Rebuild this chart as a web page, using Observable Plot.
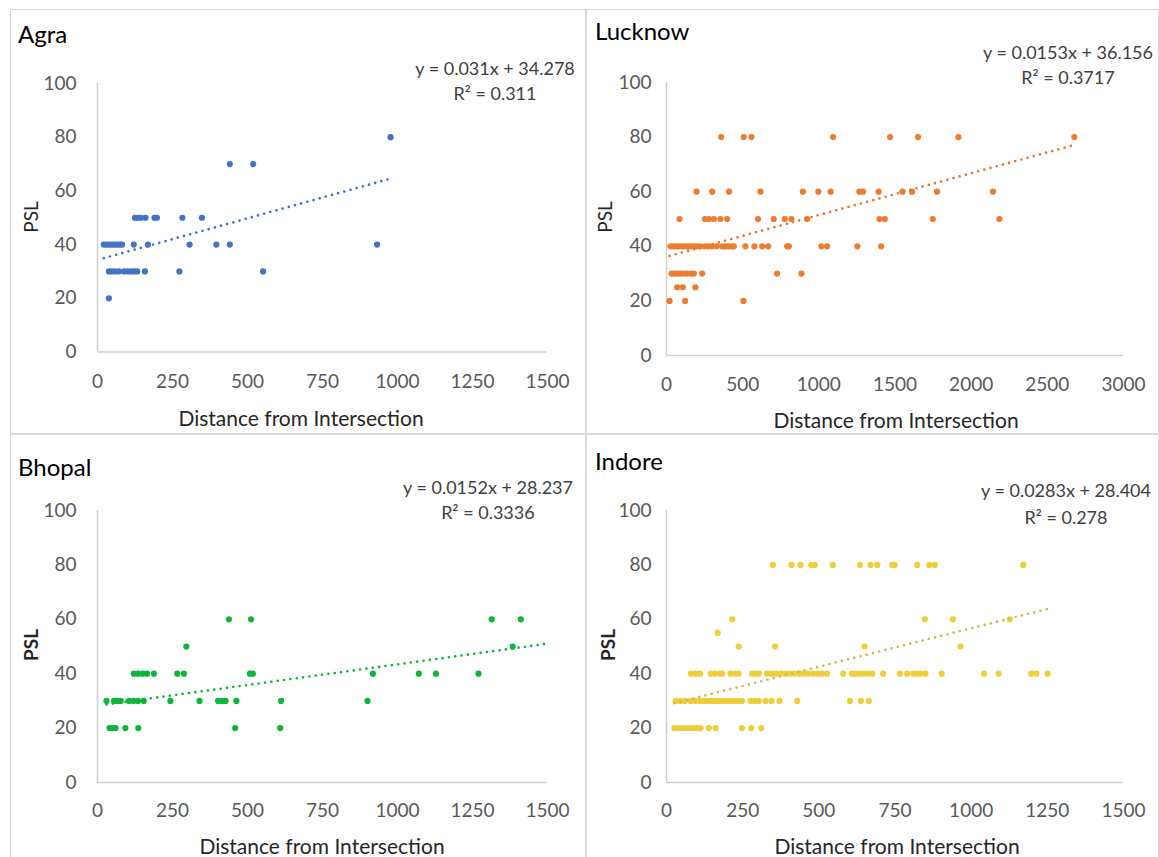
<!DOCTYPE html>
<html>
<head>
<meta charset="utf-8">
<script src="https://cdn.jsdelivr.net/npm/d3@7"></script>
<script src="https://cdn.jsdelivr.net/npm/@observablehq/plot@0.6"></script>
<style>
  html, body { margin: 0; padding: 0; background: #fff; }
  #root { position: relative; width: 1159px; height: 857px; overflow: hidden; background: #fff; font-family: Lato, "Open Sans", sans-serif; }
  .box { position: absolute; border: 1.5px solid #d9d9d9; box-sizing: border-box; }
  .t { position: absolute; white-space: nowrap; line-height: 1; }
  .title { font-size: 24px; color: #000; transform: translateY(-50%); }
  .eq { font-size: 18px; color: #404040; transform: translate(-50%, -50%); }
  .xl { font-size: 21px; color: #262626; transform: translate(-50%, -50%); }
  .yl { font-size: 19px; color: #262626; transform: translate(-50%, -50%) rotate(-90deg); }
  .plot { position: absolute; }
</style>
</head>
<body>
<div id="root"></div>
<script>
// ---------------- DATA ----------------
const cities = ["Agra", "Lucknow", "Bhopal", "Indore"];
const colors = ["#4472C4", "#ED7D31", "#0DB53B", "#F0CE3A"];
const trendColors = ["#4472C4", "#DF7838", "#0DB53B", "#CBBB52"];
const equations = ["y = 0.031x + 34.278", "y = 0.0153x + 36.156", "y = 0.0152x + 28.237", "y = 0.0283x + 28.404"];
const rSquared = ["R² = 0.311", "R² = 0.3717", "R² = 0.3336", "R² = 0.278"];
const slopes = [0.031, 0.0153, 0.0152, 0.0283];
const intercepts = [34.278, 36.156, 28.237, 28.404];
const forecastForward = [0, 0, 89, 0];
const xTicksSmall = [0, 250, 500, 750, 1000, 1250, 1500];
const xTicksLarge = [0, 500, 1000, 1500, 2000, 2500, 3000];
const yTicks = [0, 20, 40, 60, 80, 100];
const yAxisLabel = "PSL";
const xAxisLabel = "Distance from Intersection";

const agraLevels = [80, 70, 50, 40, 30, 20];
const agraDist = [
  [977],
  [441, 519],
  [125, 135, 145, 160, 190, 198, 283, 348],
  [21, 28, 36, 44, 52, 60, 68, 76, 82, 121, 168, 307, 396, 441, 932],
  [38, 48, 58, 71, 88, 100, 112, 122, 132, 158, 273, 552],
  [38]
];

const lucknowLevels = [80, 60, 50, 40, 30, 25, 20];
const lucknowDist = [
  [359, 507, 558, 1094, 1468, 1651, 1916, 2677],
  [197, 300, 411, 617, 895, 997, 1078, 1266, 1290, 1393, 1549, 1612, 1776, 2143],
  [85, 252, 278, 311, 354, 398, 601, 704, 776, 820, 923, 1398, 1433, 1748, 2185],
  [26, 45, 60, 80, 100, 120, 140, 160, 180, 200, 220, 250, 275, 300, 330, 365, 385, 405, 425, 442, 518, 577, 628, 667, 792, 803, 1017, 1054, 1253, 1409],
  [33, 50, 70, 90, 110, 135, 160, 179, 234, 726, 886],
  [70, 107, 190],
  [20, 122, 505]
];

const bhopalLevels = [60, 50, 40, 30, 20];
const bhopalDist = [
  [438, 512, 1314, 1411],
  [296, 1384],
  [121, 135, 150, 165, 188, 266, 288, 508, 518, 918, 1071, 1128, 1270],
  [30, 55, 65, 77, 105, 120, 135, 154, 243, 340, 402, 415, 427, 463, 612, 900],
  [40, 50, 60, 93, 136, 459, 609]
];

const indoreLevels = [80, 60, 55, 50, 40, 30, 20];
const indoreDist = [
  [349, 410, 440, 475, 486, 546, 635, 670, 692, 741, 749, 823, 863, 881, 1171],
  [216, 848, 940, 1127],
  [168],
  [237, 356, 650, 965],
  [80, 95, 110, 145, 160, 175, 183, 210, 225, 237, 281, 292, 303, 330, 345, 360, 375, 390, 405, 420, 435, 450, 465, 480, 495, 510, 527, 580, 609, 620, 632, 645, 660, 675, 711, 766, 790, 810, 822, 834, 850, 903, 1042, 1090, 1197, 1214, 1251],
  [30, 45, 60, 79, 95, 108, 120, 132, 145, 158, 170, 182, 195, 208, 221, 234, 248, 276, 290, 303, 325, 345, 371, 429, 602, 638, 664],
  [26, 40, 52, 65, 78, 90, 100, 112, 139, 161, 248, 278, 311]
];

const levelsList = [agraLevels, lucknowLevels, bhopalLevels, indoreLevels];
const distList = [agraDist, lucknowDist, bhopalDist, indoreDist];
const xTicksList = [xTicksSmall, xTicksLarge, xTicksSmall, xTicksSmall];

// ---------------- LAYOUT (positions only) ----------------
const boxes = [
  {left: 10, top: 9, width: 577, height: 426},
  {left: 585, top: 9, width: 574, height: 426},
  {left: 10, top: 433, width: 577, height: 430},
  {left: 585, top: 433, width: 574, height: 430}
];
const areas = [
  {x0: 97, x1: 547, yTop: 83, yBot: 351.5, yPad: 21, xPad: 22},
  {x0: 666, x1: 1123, yTop: 82, yBot: 355, yPad: 15, xPad: 22},
  {x0: 97, x1: 547, yTop: 510, yBot: 782, yPad: 21, xPad: 21},
  {x0: 666, x1: 1123, yTop: 510, yBot: 782, yPad: 15, xPad: 21}
];
const titlePos = [{x: 18, y: 34}, {x: 595, y: 31}, {x: 18, y: 467}, {x: 595, y: 461}];
const eqPos = [{x: 495, y1: 68, y2: 93}, {x: 1068, y1: 52, y2: 77}, {x: 488, y1: 487, y2: 512}, {x: 1066, y1: 490, y2: 517}];
const ylPos = [{x: 30, y: 217, bold: false}, {x: 604, y: 217, bold: false}, {x: 30, y: 645, bold: true}, {x: 607, y: 645, bold: true}];
const xlPos = [{x: 301, y: 417}, {x: 896, y: 419}, {x: 322, y: 845}, {x: 897, y: 845}];

const root = document.getElementById("root");
function addText(cls, txt, x, y, extra) {
  const d = document.createElement("div");
  d.className = "t " + cls;
  d.textContent = txt;
  d.style.left = x + "px";
  d.style.top = y + "px";
  if (extra) Object.assign(d.style, extra);
  root.appendChild(d);
  return d;
}

cities.forEach((city, i) => {
  const b = boxes[i];
  const box = document.createElement("div");
  box.className = "box";
  Object.assign(box.style, {left: b.left + "px", top: b.top + "px", width: b.width + "px", height: b.height + "px"});
  root.appendChild(box);

  const pts = [];
  levelsList[i].forEach((lv, k) => distList[i][k].forEach(d => pts.push({x: d, y: lv})));
  const xs = pts.map(p => p.x);
  const xmin = d3.min(xs), xmax = d3.max(xs) + forecastForward[i];
  const trend = [xmin, xmax].map(x => ({x, y: slopes[i] * x + intercepts[i]}));
  const ticks = xTicksList[i];

  const a = areas[i];
  const mL = 90, mR = 30, mT = 20, mB = 50;
  const W = (a.x1 - a.x0) + mL + mR;
  const H = (a.yBot - a.yTop) + mT + mB;

  const chart = Plot.plot({
    width: W,
    height: H,
    marginLeft: mL, marginRight: mR, marginTop: mT, marginBottom: mB,
    style: {fontFamily: "Lato, 'Open Sans', sans-serif", fontSize: "19px", color: "#595959", background: "transparent", overflow: "visible"},
    x: {domain: [ticks[0], ticks[ticks.length - 1]], ticks: ticks, tickSize: 0, tickPadding: a.xPad, tickFormat: d => String(d), label: null},
    y: {domain: [0, 100], ticks: yTicks, tickSize: 0, tickPadding: a.yPad, tickFormat: d => String(d), label: null},
    marks: [
      Plot.ruleY([0], {stroke: "#d0d0d0", strokeWidth: 1.5}),
      Plot.ruleX([0], {stroke: "#d0d0d0", strokeWidth: 1.5}),
      Plot.dot(pts, {x: "x", y: "y", r: 3.1, fill: colors[i], stroke: "none"}),
      Plot.line(trend, {x: "x", y: "y", stroke: trendColors[i], strokeWidth: 2.7, strokeDasharray: "0 6.4", strokeLinecap: "round"})
    ]
  });
  chart.classList.add("plot");
  chart.style.left = (a.x0 - mL) + "px";
  chart.style.top = (a.yTop - mT) + "px";
  root.appendChild(chart);

  addText("title", city, titlePos[i].x, titlePos[i].y);
  addText("eq", equations[i], eqPos[i].x, eqPos[i].y1);
  addText("eq", rSquared[i], eqPos[i].x, eqPos[i].y2);
  addText("yl", yAxisLabel, ylPos[i].x, ylPos[i].y, ylPos[i].bold ? {fontWeight: "700"} : null);
  addText("xl", xAxisLabel, xlPos[i].x, xlPos[i].y);
});
</script>
</body>
</html>
